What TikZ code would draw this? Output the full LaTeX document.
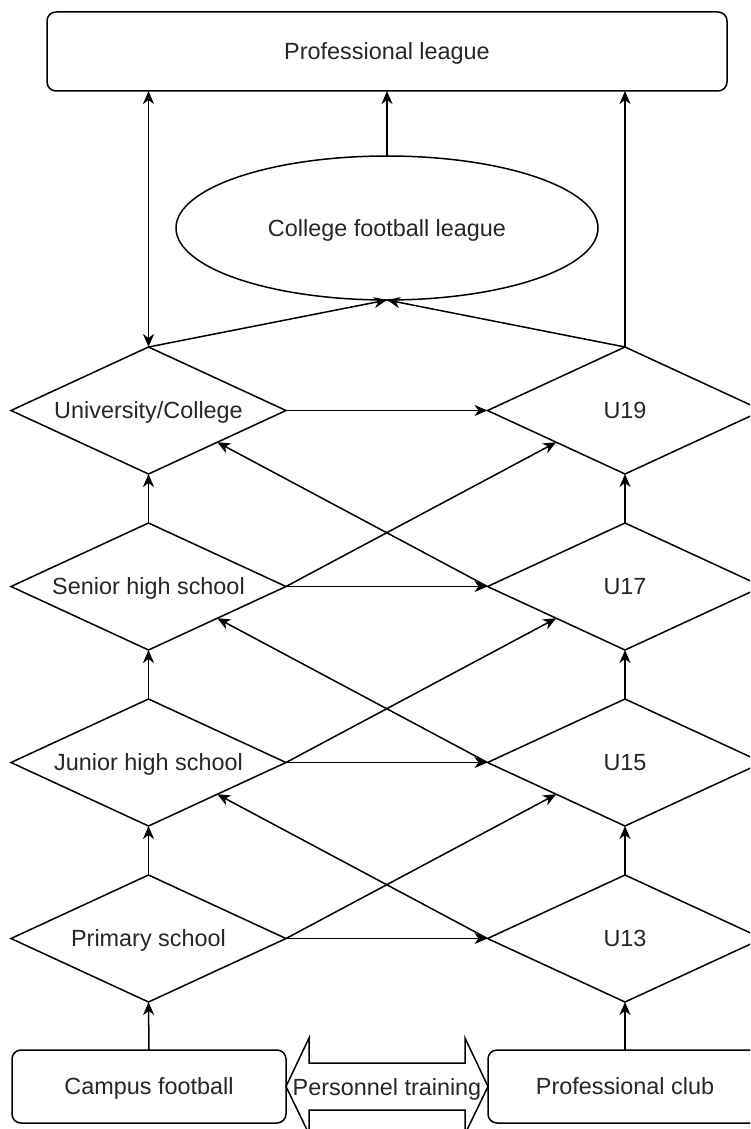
\documentclass[tikz,border=0pt]{standalone}
\usepackage{fontspec}
\setmainfont{Liberation Sans}
\usetikzlibrary{shapes.geometric,arrows.meta,calc}
\begin{document}
\begin{tikzpicture}[x=1pt,y=-1pt,
  every node/.style={font=\fontsize{23.4}{28}\selectfont, text=black!85, text height=21pt, text depth=4.2pt},
  line/.style={line width=1.5pt, draw=black},
  arr/.style={line, -{Stealth[length=13pt,width=11pt,inset=4pt]}},
  darr/.style={line, {Stealth[length=13pt,width=11pt,inset=4pt]}-{Stealth[length=13pt,width=11pt,inset=4pt]}},
  dmd/.style={diamond, line, aspect=2.17, minimum width=275pt, minimum height=127pt, inner sep=0pt, outer sep=0pt},
  rbox/.style={rectangle, line, rounded corners=9pt, inner sep=0pt, outer sep=0pt}]
\useasboundingbox (0,0) rectangle (750,1129);
\clip (0,0) rectangle (750,1129);
% top
\node[rbox, minimum width=680pt, minimum height=79pt] (pl) at (387,51.5) {Professional league};
\node[ellipse, line, minimum width=422pt, minimum height=144pt, inner sep=0pt, outer sep=0pt] (cfl) at (387,228) {College football league};
% left column
\node[dmd] (uc)  at (148.5,410.5) {University/College};
\node[dmd] (shs) at (148.5,586.5) {Senior high school};
\node[dmd] (jhs) at (148.5,762.5) {Junior high school};
\node[dmd] (ps)  at (148.5,938.5) {Primary school};
% right column
\node[dmd] (u19) at (625,410.5) {U19};
\node[dmd] (u17) at (625,586.5) {U17};
\node[dmd] (u15) at (625,762.5) {U15};
\node[dmd] (u13) at (625,938.5) {U13};
% bottom boxes
\node[rbox, minimum width=274pt, minimum height=73pt] (cf) at (149,1086.5) {Campus football};
\node[rbox, minimum width=274pt, minimum height=73pt] (pc) at (625,1086.5) {Professional club};
% personnel training double arrow
\draw[line, line join=miter] (cf.east) -- (309,1038) -- (309,1063) -- (465,1063) -- (465,1038) -- (pc.west)
  -- (465,1134) -- (465,1110) -- (309,1110) -- (309,1134) -- cycle;
\node[inner sep=0pt] (pt) at (387,1087) {Personnel training};
% vertical arrows left
\draw[arr] (cf.north) -- (ps.south);
\draw[arr] (ps.north) -- (jhs.south);
\draw[arr] (jhs.north) -- (shs.south);
\draw[arr] (shs.north) -- (uc.south);
\draw[darr] (uc.north) -- (uc.north |- pl.south);
% vertical arrows right
\draw[arr] (pc.north) -- (u13.south);
\draw[arr] (u13.north) -- (u15.south);
\draw[arr] (u15.north) -- (u17.south);
\draw[arr] (u17.north) -- (u19.south);
\draw[arr] (u19.north) -- (u19.north |- pl.south);
% to college league and pro league
\draw[arr] (uc.north) -- (cfl.south);
\draw[arr] (u19.north) -- (cfl.south);
\draw[arr] (cfl.north) -- (pl.south);
% horizontal arrows
\draw[arr] (uc.east) -- (u19.west);
\draw[arr] (shs.east) -- (u17.west);
\draw[arr] (jhs.east) -- (u15.west);
\draw[arr] (ps.east) -- (u13.west);
% diagonals
\draw[arr] (ps.east) -- ($(u15.south)!0.5!(u15.west)$);
\draw[arr] (jhs.east) -- ($(u17.south)!0.5!(u17.west)$);
\draw[arr] (shs.east) -- ($(u19.south)!0.5!(u19.west)$);
\draw[arr] (u13.west) -- ($(jhs.south)!0.5!(jhs.east)$);
\draw[arr] (u15.west) -- ($(shs.south)!0.5!(shs.east)$);
\draw[arr] (u17.west) -- ($(uc.south)!0.5!(uc.east)$);
\end{tikzpicture}
\end{document}
